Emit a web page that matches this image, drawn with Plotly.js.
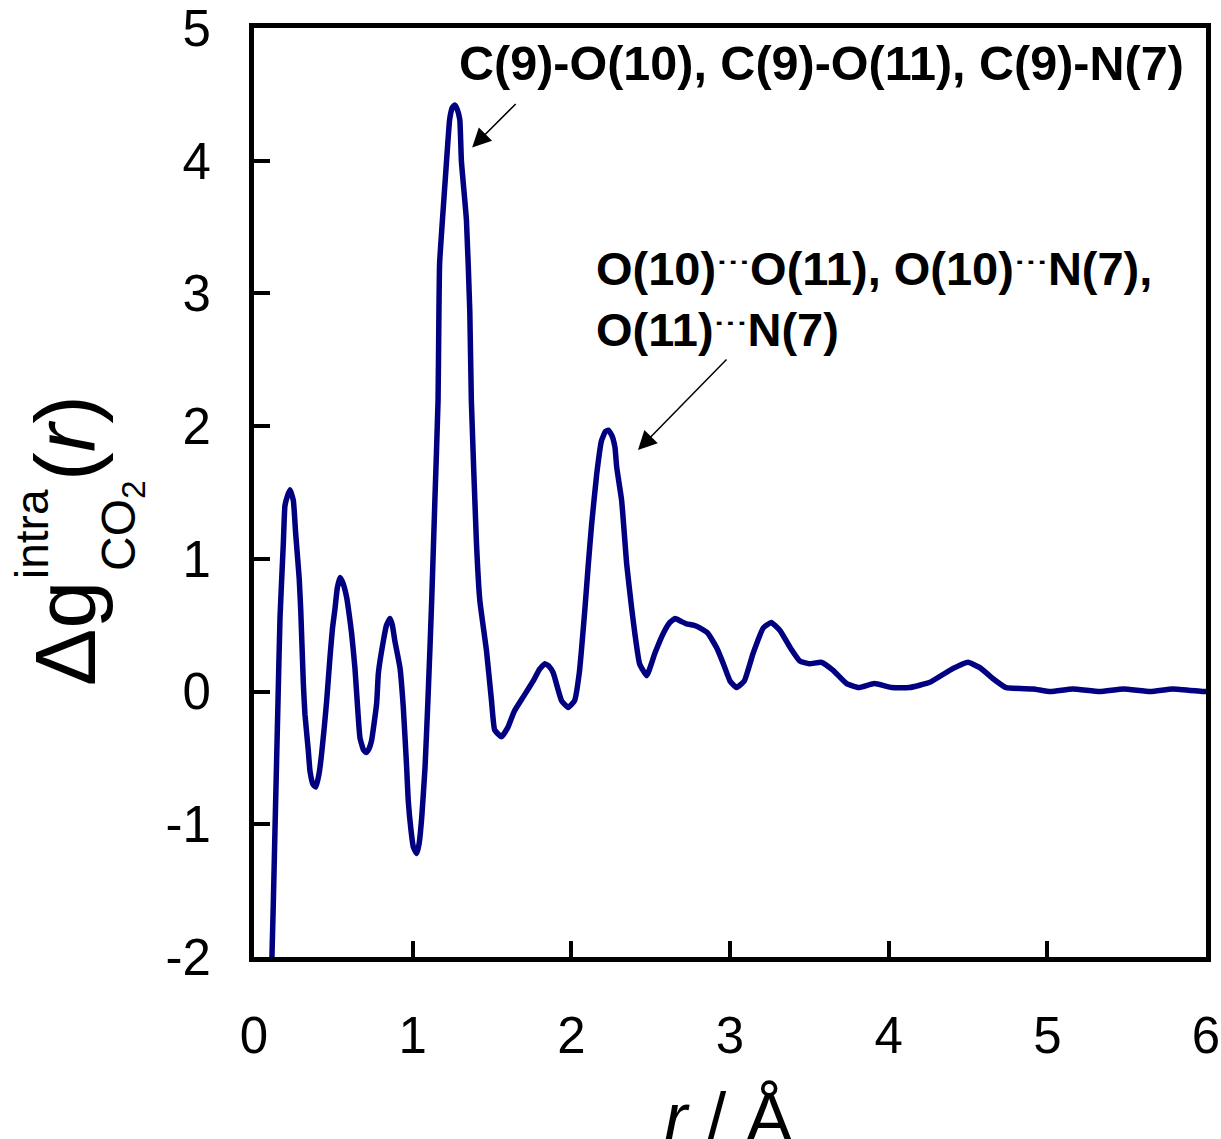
<!DOCTYPE html>
<html>
<head>
<meta charset="utf-8">
<script src="https://cdn.plot.ly/plotly-3.0.1.min.js"></script>
<style>
  html, body { margin: 0; padding: 0; background: #ffffff; }
  #chart { width: 1221px; height: 1139px; }
</style>
</head>
<body>
<div id="chart"></div>
<script>
// Intramolecular pair-distribution difference of CO2 vs. distance r (Å)
const r = [
  0.105, 0.113, 0.122, 0.135, 0.150, 0.164, 0.185, 0.195, 0.210, 0.227,
  0.248, 0.262, 0.285, 0.295, 0.311, 0.321, 0.342, 0.353, 0.372, 0.390,
  0.410, 0.426, 0.442, 0.458, 0.479, 0.495, 0.510, 0.525, 0.542, 0.560,
  0.584, 0.600, 0.615, 0.636, 0.657, 0.668, 0.690, 0.706, 0.725, 0.741,
  0.773, 0.784, 0.815, 0.835, 0.857, 0.872, 0.888, 0.920, 0.941, 0.962,
  0.972, 0.990, 1.004, 1.025, 1.040, 1.057, 1.078, 1.095, 1.109, 1.120,
  1.140, 1.160, 1.165, 1.170, 1.202, 1.223, 1.233, 1.250, 1.265, 1.280,
  1.297, 1.307, 1.339, 1.360, 1.370, 1.402, 1.423, 1.465, 1.497, 1.517,
  1.560, 1.600, 1.640, 1.697, 1.760, 1.800, 1.833, 1.860, 1.886, 1.939,
  1.980, 2.020, 2.050, 2.086, 2.107, 2.128, 2.160, 2.190, 2.215, 2.233,
  2.255, 2.275, 2.286, 2.317, 2.349, 2.380, 2.400, 2.430, 2.475, 2.527,
  2.580, 2.620, 2.653, 2.690, 2.726, 2.770, 2.810, 2.860, 2.916, 2.958,
  3.000, 3.040, 3.090, 3.146, 3.210, 3.260, 3.315, 3.380, 3.440, 3.500,
  3.577, 3.650, 3.735, 3.810, 3.910, 4.020, 4.130, 4.260, 4.385, 4.500,
  4.575, 4.660, 4.740, 4.910, 5.020, 5.160, 5.330, 5.480, 5.650, 5.790,
  5.980, 6.000
];
const dg = [
  -2.30, -2.00, -1.58, -0.90, -0.14, 0.56, 1.12, 1.40, 1.47, 1.52,
  1.44, 1.20, 0.85, 0.60, 0.06, -0.17, -0.44, -0.60, -0.70, -0.72,
  -0.62, -0.47, -0.28, -0.07, 0.26, 0.48, 0.62, 0.78, 0.86, 0.82,
  0.71, 0.58, 0.44, 0.18, -0.19, -0.35, -0.44, -0.46, -0.43, -0.37,
  -0.09, 0.14, 0.38, 0.50, 0.55, 0.50, 0.38, 0.18, -0.12, -0.57,
  -0.82, -1.05, -1.17, -1.22, -1.15, -0.95, -0.57, -0.10, 0.33, 0.69,
  1.44, 2.19, 2.80, 3.23, 3.80, 4.16, 4.31, 4.40, 4.42, 4.39,
  4.31, 4.00, 3.55, 2.87, 2.19, 1.12, 0.69, 0.31, -0.07, -0.29,
  -0.34, -0.27, -0.15, -0.04, 0.08, 0.17, 0.21, 0.19, 0.14, -0.07,
  -0.12, -0.07, 0.14, 0.63, 0.96, 1.26, 1.64, 1.89, 1.96, 1.97,
  1.93, 1.84, 1.69, 1.44, 0.96, 0.63, 0.44, 0.21, 0.12, 0.29,
  0.44, 0.52, 0.55, 0.53, 0.51, 0.50, 0.48, 0.44, 0.33, 0.21,
  0.08, 0.03, 0.08, 0.29, 0.48, 0.52, 0.46, 0.33, 0.23, 0.21,
  0.22, 0.16, 0.06, 0.03, 0.06, 0.03, 0.03, 0.07, 0.16, 0.22,
  0.18, 0.095, 0.03, 0.02, 0.00, 0.02, 0.00, 0.02, 0.00, 0.02,
  0.00, 0.00
];

const xTickVals = [0, 1, 2, 3, 4, 5, 6];
const xTickText = ['0', '1', '2', '3', '4', '5', '6'];
const yTickVals = [-2, -1, 0, 1, 2, 3, 4, 5];
const yTickText = ['-2', '-1', '0', '1', '2', '3', '4', '5'];

const xTitle = '<i>r</i> / Å';

// raised three-dot separator for non-bonded contacts
const DOTS = '<span style="font-size:34px">˙˙˙</span>';
const bondLabel = 'C(9)-O(10), C(9)-O(11), C(9)-N(7)';
const contactLabel = 'O(10)' + DOTS + 'O(11), O(10)' + DOTS + 'N(7),<br>O(11)' + DOTS + 'N(7)';

// arrow targets on the curve (data units)
const bondPeak = { r: 1.375, g: 4.10 };
const contactPeak = { r: 2.42, g: 1.82 };

const FONT = 'Arial, "Liberation Sans", sans-serif';
const W = 1221, H = 1139;
const M = { l: 254, r: 15, t: 28, b: 182 };
const pw = W - M.l - M.r, ph = H - M.t - M.b;
// page pixel -> paper fraction
const fx = p => (p - M.l) / pw;
const fy = p => (H - M.b - p) / ph;

const trace = {
  x: r, y: dg,
  type: 'scatter', mode: 'lines',
  line: { color: '#000080', width: 5.5, shape: 'spline', smoothing: 0.4 },
  hoverinfo: 'skip'
};

const axisCommon = {
  showline: true, linecolor: '#000000', linewidth: 5, mirror: true,
  showgrid: false, zeroline: false,
  ticks: 'inside', ticklen: 16, tickwidth: 4, tickcolor: '#000000',
  tickmode: 'array',
  ticklabeloverflow: 'allow',
  tickfont: { family: FONT, size: 51, color: '#000000' },
  automargin: false
};

const layout = {
  width: W, height: H,
  margin: { l: M.l, r: M.r, t: M.t, b: M.b, pad: 0 },
  paper_bgcolor: '#ffffff', plot_bgcolor: '#ffffff',
  showlegend: false,
  font: { family: FONT, color: '#000000' },
  xaxis: Object.assign({}, axisCommon, {
    range: [0, 6], tickvals: xTickVals, ticktext: xTickText,
    ticklabelstandoff: 30
  }),
  yaxis: Object.assign({}, axisCommon, {
    range: [-2, 5], tickvals: yTickVals, ticktext: yTickText,
    ticklabelstandoff: 28
  }),
  annotations: [
    // x-axis title (sits partly below the page edge)
    { xref: 'paper', yref: 'paper', x: fx(728), y: fy(1118), xanchor: 'center', yanchor: 'middle',
      showarrow: false, text: xTitle, font: { family: FONT, size: 70, color: '#000' } },
    // y-axis title pieces (stacked super/subscript)
    { xref: 'paper', yref: 'paper', x: fx(65), y: fy(634), xanchor: 'center', yanchor: 'middle',
      textangle: -90, showarrow: false, text: 'Δg', font: { family: FONT, size: 86, color: '#000' } },
    { xref: 'paper', yref: 'paper', x: fx(32), y: fy(534), xanchor: 'center', yanchor: 'middle',
      textangle: -90, showarrow: false, text: 'intra', font: { family: FONT, size: 46, color: '#000' } },
    { xref: 'paper', yref: 'paper', x: fx(122), y: fy(526), xanchor: 'center', yanchor: 'middle',
      textangle: -90, showarrow: false, text: 'CO<sub>2</sub>', font: { family: FONT, size: 48, color: '#000' } },
    { xref: 'paper', yref: 'paper', x: fx(65), y: fy(438), xanchor: 'center', yanchor: 'middle',
      textangle: -90, showarrow: false, text: '(<i>r</i>)', font: { family: FONT, size: 86, color: '#000' } },
    // peak labels
    { xref: 'paper', yref: 'paper', x: fx(457), y: fy(63), xanchor: 'left', yanchor: 'middle',
      showarrow: false, text: '<b>' + bondLabel + '</b>', font: { family: FONT, size: 48.5, color: '#000' } },
    { xref: 'paper', yref: 'paper', x: fx(594), y: fy(299), xanchor: 'left', yanchor: 'middle', align: 'left',
      showarrow: false, text: '<b>' + contactLabel + '</b>', font: { family: FONT, size: 47, color: '#000' } },
    // arrows
    { xref: 'x', yref: 'y', x: bondPeak.r, y: bondPeak.g, ax: 45, ay: -45, text: '',
      showarrow: true, arrowhead: 2, arrowsize: 2.5, arrowwidth: 1.5, arrowcolor: '#000', standoff: 0 },
    { xref: 'x', yref: 'y', x: contactPeak.r, y: contactPeak.g, ax: 90, ay: -92, text: '',
      showarrow: true, arrowhead: 2, arrowsize: 2.5, arrowwidth: 1.5, arrowcolor: '#000', standoff: 0 }
  ]
};

Plotly.newPlot('chart', [trace], layout, { staticPlot: true, displayModeBar: false });
</script>
</body>
</html>
